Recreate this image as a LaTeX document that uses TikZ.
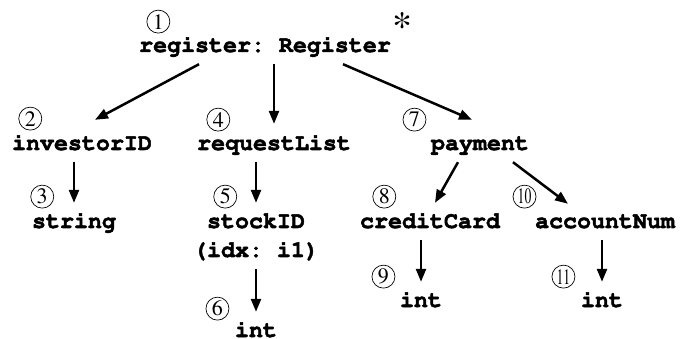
\documentclass[tikz,border=0pt]{standalone}
\usepackage[T1]{fontenc}
\usepackage{tikz}
\usetikzlibrary{arrows.meta, positioning}
\tikzset{>={Triangle[width=10pt,length=13pt]}}
\newcommand{\crb}{\fontsize{23.3}{28}\usefont{T1}{pcr}{b}{n}\frenchspacing}
\newcommand{\tms}{\fontsize{22}{24}\usefont{T1}{ptm}{m}{n}}
\newcommand{\nar}[1]{\scalebox{0.62}[1]{#1}}
\newcommand{\heavy}[1]{\special{pdf:literal direct q 2 Tr 0.5 w}#1\special{pdf:literal direct Q}}

\begin{document}
\begin{tikzpicture}[x=1pt, y=-1pt, on grid,
		field/.style = {font=\crb, inner xsep=0pt, inner ysep=7pt, text height=14pt, text depth=5pt},
		num/.style = {circle, draw, line width=0.7pt, inner sep=0pt, minimum size=23pt, font=\tms}]
		\useasboundingbox (0,0) rectangle (680,339);
		% fields
		\node (reg) [field] at (265,47.5) {\heavy{register: Register}};
		\node (inv) [field, below left = 98pt and 183pt of reg] {\heavy{investorID}};
		\node (req) [field, below right = 98pt and 9pt of reg] {\heavy{requestList}};
		\node (pay) [field, below right = 98pt and 215pt of reg] {\heavy{payment}};
		\node (str) [field, below left = 78pt and 8pt of inv] {\heavy{string}};
		\node (stock) [field, below left = 78pt and 18pt of req] {\heavy{stockID}};
		\node (idx) [field, below = 29pt of stock] {\heavy{(idx: i1)}};
		\node (intc) [field, below = 80pt of idx] {\heavy{int}};
		\node (cc) [field, below left = 78pt and 50pt of pay] {\heavy{creditCard}};
		\node (acc) [field, below right = 78pt and 125pt of pay] {\heavy{accountNum}};
		\node (inta) [field, below left = 79pt and 9pt of cc] {\heavy{int}};
		\node (intb) [field, below left = 79pt and 3pt of acc] {\heavy{int}};
		\node (star) [anchor=base west, inner sep=0pt, xshift=1pt, yshift=12pt,
			font=\fontsize{40}{40}\usefont{T1}{ptm}{m}{n}] at (reg.base east) {*};
		% numbers
		\node (c1) [num, above right = 22pt and 11pt of reg.base west] {1};
		\node (c2) [num, above right = 23pt and 10pt of inv.base west] {2};
		\node (c3) [num, above right = 23pt and 2pt of str.base west] {3};
		\node (c4) [num, above right = 22pt and 13pt of req.base west] {4};
		\node (c5) [num, above right = 23pt and 10pt of stock.base west] {5};
		\node (c6) [num, above left = 20pt and 9pt of intc.base west] {6};
		\node (c7) [num, above left = 22pt and 8pt of pay.base west] {7};
		\node (c8) [num, above right = 23pt and 16pt of cc.base west] {8};
		\node (c9) [num, above left = 22pt and 8pt of inta.base west] {9};
		\node (c10) [num, above left = 23pt and 2pt of acc.base west] {\nar{10}};
		\node (c11) [num, above left = 22pt and 9pt of intb.base west] {\nar{11}};
		% edges
		\path[->, line width=2.5pt]
		([xshift=-66pt]reg.south) edge ([xshift=13pt,yshift=9pt]inv.north)
		(reg.south -| req) edge ([yshift=5pt]req.north)
		([xshift=78pt]reg.south) edge ([xshift=-8pt,yshift=9pt]pay.north)
		(inv.south -| str) edge ([yshift=4pt]str.north)
		(req.south -| stock) edge ([yshift=4pt]stock.north)
		(idx.south) edge ([yshift=4pt]intc.north)
		([xshift=-22pt]pay.south) edge ([xshift=5pt,yshift=4pt]cc.north)
		([xshift=33pt]pay.south) edge ([xshift=-37pt,yshift=3pt]acc.north)
		(cc.south -| inta) edge ([yshift=4pt]inta.north)
		(acc.south -| intb) edge ([yshift=4pt]intb.north);
\end{tikzpicture}
\end{document}
